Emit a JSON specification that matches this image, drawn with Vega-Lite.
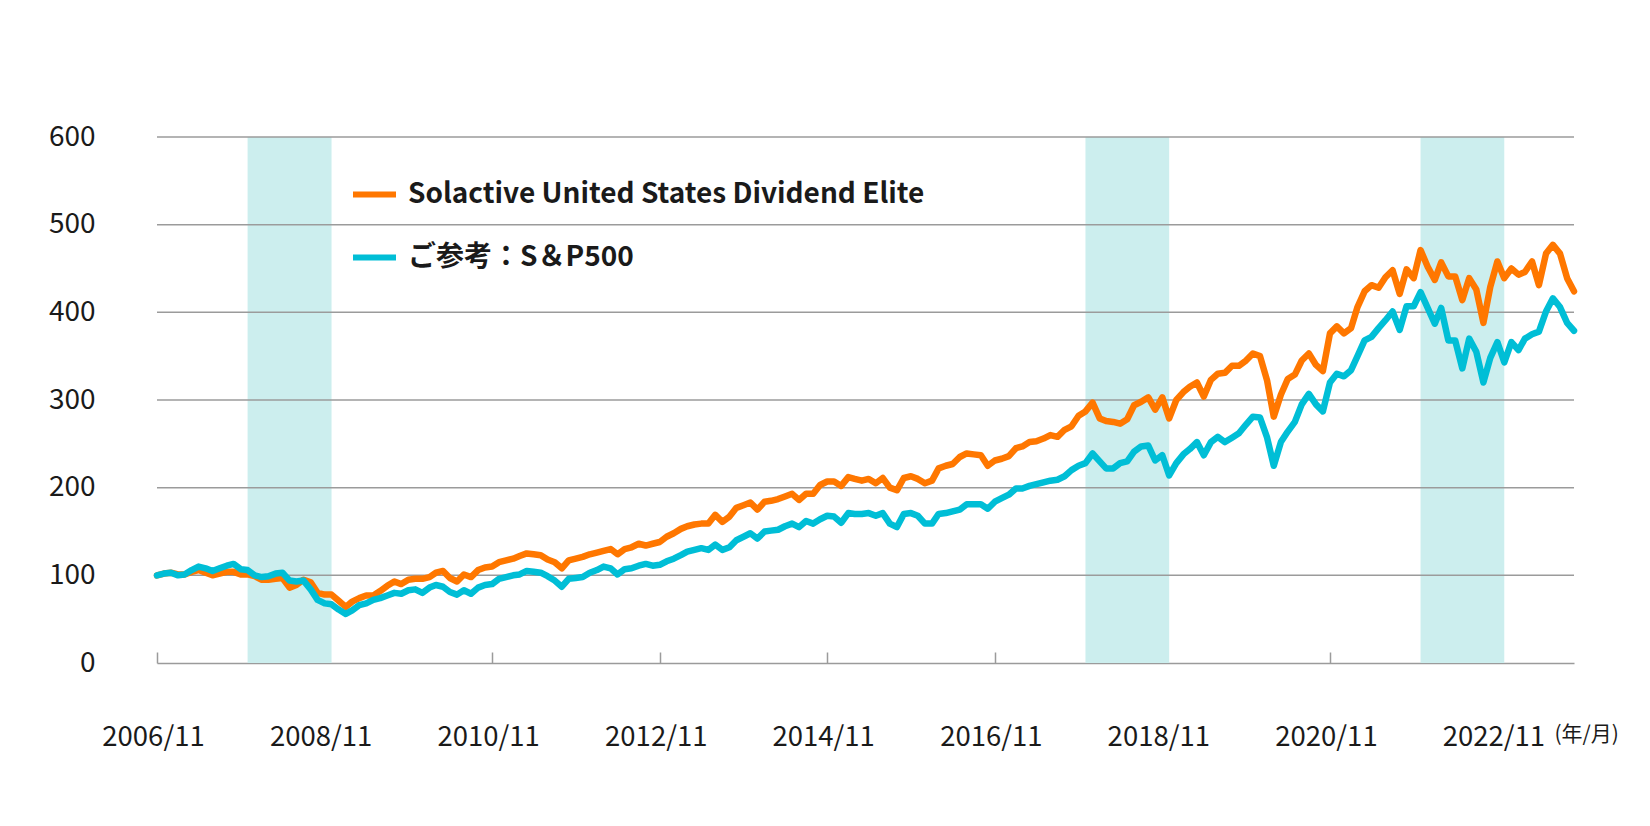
{
  "$schema": "https://vega.github.io/schema/vega-lite/v6.json",
  "width": 1417,
  "height": 526,
  "autosize": {"type": "none"},
  "padding": {"left": 157, "top": 137, "right": 76, "bottom": 163},
  "background": "white",
  "config": {"view": {"stroke": null}, "font": "Noto Sans CJK JP"},
  "layer": [
    {
      "data": {
        "values": [
          {"s": "2007-12", "e": "2008-12"},
          {"s": "2017-12", "e": "2018-12"},
          {"s": "2021-12", "e": "2022-12"}
        ],
        "format": {"parse": {"s": "date:'%Y-%m'", "e": "date:'%Y-%m'"}}
      },
      "mark": {"type": "rect", "color": "#CCEEEE"},
      "encoding": {
        "x": {"field": "s", "type": "temporal", "scale": {"domain": [{"year": 2006, "month": 11, "date": 1}, {"year": 2023, "month": 10, "date": 1}]}},
        "x2": {"field": "e"}
      }
    },
    {
      "data": {"values": [{"g": 100}, {"g": 200}, {"g": 300}, {"g": 400}, {"g": 500}, {"g": 600}]},
      "mark": {"type": "rule", "color": "#9b9b9b", "strokeWidth": 1.5},
      "encoding": {
        "y": {"field": "g", "type": "quantitative", "scale": {"domain": [0, 600]}}
      }
    },
    {
      "data": {
        "values": [
{"d":"2006-11","a":100,"b":100},{"d":"2006-12","a":102,"b":102},{"d":"2007-01","a":103,"b":103},{"d":"2007-02","a":101,"b":100},{"d":"2007-03","a":101,"b":101},{"d":"2007-04","a":104,"b":106},{"d":"2007-05","a":106,"b":110},{"d":"2007-06","a":103,"b":108},{"d":"2007-07","a":100,"b":105},{"d":"2007-08","a":102,"b":108},{"d":"2007-09","a":104,"b":111},{"d":"2007-10","a":104,"b":113},
{"d":"2007-11","a":101,"b":107},{"d":"2007-12","a":101,"b":106},{"d":"2008-01","a":99,"b":100},{"d":"2008-02","a":95,"b":98},{"d":"2008-03","a":95,"b":99},{"d":"2008-04","a":96,"b":102},{"d":"2008-05","a":97,"b":103},{"d":"2008-06","a":86,"b":94},{"d":"2008-07","a":89,"b":93},{"d":"2008-08","a":95,"b":94},{"d":"2008-09","a":92,"b":84},{"d":"2008-10","a":80,"b":72},
{"d":"2008-11","a":78,"b":68},{"d":"2008-12","a":78,"b":67},{"d":"2009-01","a":71,"b":61},{"d":"2009-02","a":64,"b":56},{"d":"2009-03","a":70,"b":60},{"d":"2009-04","a":74,"b":66},{"d":"2009-05","a":77,"b":68},{"d":"2009-06","a":77,"b":72},{"d":"2009-07","a":82,"b":74},{"d":"2009-08","a":88,"b":77},{"d":"2009-09","a":93,"b":80},{"d":"2009-10","a":90,"b":79},
{"d":"2009-11","a":95,"b":83},{"d":"2009-12","a":96,"b":84},{"d":"2010-01","a":96,"b":80},{"d":"2010-02","a":98,"b":86},{"d":"2010-03","a":103,"b":89},{"d":"2010-04","a":105,"b":87},{"d":"2010-05","a":97,"b":81},{"d":"2010-06","a":93,"b":78},{"d":"2010-07","a":101,"b":83},{"d":"2010-08","a":98,"b":79},{"d":"2010-09","a":106,"b":86},{"d":"2010-10","a":109,"b":89},
{"d":"2010-11","a":110,"b":90},{"d":"2010-12","a":115,"b":96},{"d":"2011-01","a":117,"b":98},{"d":"2011-02","a":119,"b":100},{"d":"2011-03","a":122,"b":101},{"d":"2011-04","a":125,"b":105},{"d":"2011-05","a":124,"b":104},{"d":"2011-06","a":123,"b":103},{"d":"2011-07","a":118,"b":99},{"d":"2011-08","a":115,"b":94},{"d":"2011-09","a":108,"b":87},{"d":"2011-10","a":117,"b":96},
{"d":"2011-11","a":119,"b":97},{"d":"2011-12","a":121,"b":98},{"d":"2012-01","a":124,"b":103},{"d":"2012-02","a":126,"b":106},{"d":"2012-03","a":128,"b":110},{"d":"2012-04","a":130,"b":108},{"d":"2012-05","a":124,"b":101},{"d":"2012-06","a":130,"b":107},{"d":"2012-07","a":132,"b":108},{"d":"2012-08","a":136,"b":111},{"d":"2012-09","a":134,"b":113},{"d":"2012-10","a":136,"b":111},
{"d":"2012-11","a":138,"b":112},{"d":"2012-12","a":144,"b":116},{"d":"2013-01","a":148,"b":119},{"d":"2013-02","a":153,"b":123},{"d":"2013-03","a":156,"b":127},{"d":"2013-04","a":158,"b":129},{"d":"2013-05","a":159,"b":131},{"d":"2013-06","a":159,"b":129},{"d":"2013-07","a":169,"b":135},{"d":"2013-08","a":161,"b":129},{"d":"2013-09","a":167,"b":132},{"d":"2013-10","a":177,"b":140},
{"d":"2013-11","a":180,"b":144},{"d":"2013-12","a":183,"b":148},{"d":"2014-01","a":175,"b":142},{"d":"2014-02","a":184,"b":150},{"d":"2014-03","a":185,"b":151},{"d":"2014-04","a":187,"b":152},{"d":"2014-05","a":190,"b":156},{"d":"2014-06","a":193,"b":159},{"d":"2014-07","a":186,"b":155},{"d":"2014-08","a":193,"b":162},{"d":"2014-09","a":193,"b":159},{"d":"2014-10","a":203,"b":164},
{"d":"2014-11","a":207,"b":168},{"d":"2014-12","a":207,"b":167},{"d":"2015-01","a":202,"b":160},{"d":"2015-02","a":212,"b":171},{"d":"2015-03","a":210,"b":170},{"d":"2015-04","a":208,"b":170},{"d":"2015-05","a":210,"b":171},{"d":"2015-06","a":205,"b":168},{"d":"2015-07","a":211,"b":171},{"d":"2015-08","a":200,"b":159},{"d":"2015-09","a":197,"b":155},{"d":"2015-10","a":211,"b":170},
{"d":"2015-11","a":213,"b":171},{"d":"2015-12","a":210,"b":168},{"d":"2016-01","a":205,"b":159},{"d":"2016-02","a":208,"b":159},{"d":"2016-03","a":222,"b":170},{"d":"2016-04","a":225,"b":171},{"d":"2016-05","a":227,"b":173},{"d":"2016-06","a":235,"b":175},{"d":"2016-07","a":239,"b":181},{"d":"2016-08","a":238,"b":181},{"d":"2016-09","a":237,"b":181},{"d":"2016-10","a":225,"b":176},
{"d":"2016-11","a":231,"b":184},{"d":"2016-12","a":233,"b":188},{"d":"2017-01","a":236,"b":192},{"d":"2017-02","a":245,"b":199},{"d":"2017-03","a":247,"b":199},{"d":"2017-04","a":252,"b":202},{"d":"2017-05","a":253,"b":204},{"d":"2017-06","a":256,"b":206},{"d":"2017-07","a":260,"b":208},{"d":"2017-08","a":258,"b":209},{"d":"2017-09","a":266,"b":213},{"d":"2017-10","a":270,"b":220},
{"d":"2017-11","a":282,"b":225},{"d":"2017-12","a":287,"b":228},{"d":"2018-01","a":297,"b":239},{"d":"2018-02","a":279,"b":230},{"d":"2018-03","a":276,"b":222},{"d":"2018-04","a":275,"b":222},{"d":"2018-05","a":273,"b":228},{"d":"2018-06","a":278,"b":230},{"d":"2018-07","a":294,"b":241},{"d":"2018-08","a":298,"b":247},{"d":"2018-09","a":303,"b":248},{"d":"2018-10","a":289,"b":231},
{"d":"2018-11","a":303,"b":237},{"d":"2018-12","a":279,"b":214},{"d":"2019-01","a":300,"b":228},{"d":"2019-02","a":309,"b":238},{"d":"2019-03","a":315,"b":244},{"d":"2019-04","a":320,"b":252},{"d":"2019-05","a":304,"b":237},{"d":"2019-06","a":323,"b":252},{"d":"2019-07","a":330,"b":258},{"d":"2019-08","a":331,"b":252},{"d":"2019-09","a":339,"b":257},{"d":"2019-10","a":339,"b":262},
{"d":"2019-11","a":345,"b":272},{"d":"2019-12","a":353,"b":281},{"d":"2020-01","a":350,"b":280},{"d":"2020-02","a":322,"b":257},{"d":"2020-03","a":281,"b":225},{"d":"2020-04","a":306,"b":252},{"d":"2020-05","a":324,"b":264},{"d":"2020-06","a":329,"b":275},{"d":"2020-07","a":345,"b":295},{"d":"2020-08","a":353,"b":307},{"d":"2020-09","a":340,"b":295},{"d":"2020-10","a":333,"b":287},
{"d":"2020-11","a":376,"b":320},{"d":"2020-12","a":384,"b":330},{"d":"2021-01","a":376,"b":327},{"d":"2021-02","a":382,"b":334},{"d":"2021-03","a":406,"b":350},{"d":"2021-04","a":424,"b":368},{"d":"2021-05","a":431,"b":372},{"d":"2021-06","a":428,"b":382},{"d":"2021-07","a":440,"b":391},{"d":"2021-08","a":448,"b":401},{"d":"2021-09","a":421,"b":380},{"d":"2021-10","a":449,"b":407},
{"d":"2021-11","a":439,"b":407},{"d":"2021-12","a":471,"b":423},{"d":"2022-01","a":452,"b":405},{"d":"2022-02","a":437,"b":387},{"d":"2022-03","a":457,"b":405},{"d":"2022-04","a":441,"b":368},{"d":"2022-05","a":441,"b":368},{"d":"2022-06","a":414,"b":336},{"d":"2022-07","a":439,"b":370},{"d":"2022-08","a":426,"b":355},{"d":"2022-09","a":388,"b":320},{"d":"2022-10","a":429,"b":348},
{"d":"2022-11","a":458,"b":366},{"d":"2022-12","a":439,"b":343},{"d":"2023-01","a":450,"b":366},{"d":"2023-02","a":443,"b":357},{"d":"2023-03","a":446,"b":370},{"d":"2023-04","a":458,"b":375},{"d":"2023-05","a":431,"b":378},{"d":"2023-06","a":467,"b":401},{"d":"2023-07","a":477,"b":416},{"d":"2023-08","a":467,"b":406},{"d":"2023-09","a":439,"b":388},{"d":"2023-10","a":424,"b":379}
        ],
        "format": {"parse": {"d": "date:'%Y-%m'"}}
      },
      "transform": [{"fold": ["a", "b"], "as": ["k", "v"]}],
      "mark": {"type": "line", "strokeWidth": 6.5, "strokeJoin": "round", "strokeCap": "round"},
      "encoding": {
        "x": {
          "field": "d",
          "type": "temporal",
          "scale": {"domain": [{"year": 2006, "month": 11, "date": 1}, {"year": 2023, "month": 10, "date": 1}]},
          "axis": {
            "values": [
              {"year": 2006, "month": 11, "date": 1},
              {"year": 2008, "month": 11, "date": 1},
              {"year": 2010, "month": 11, "date": 1},
              {"year": 2012, "month": 11, "date": 1},
              {"year": 2014, "month": 11, "date": 1},
              {"year": 2016, "month": 11, "date": 1},
              {"year": 2018, "month": 11, "date": 1},
              {"year": 2020, "month": 11, "date": 1},
              {"year": 2022, "month": 11, "date": 1}
            ],
            "format": "%Y/%m",
            "grid": false,
            "domain": true,
            "domainColor": "#9b9b9b",
            "domainWidth": 1.5,
            "ticks": true,
            "tickSize": -11,
            "tickColor": "#9b9b9b",
            "tickWidth": 1.5,
            "labelPadding": 85,
            "labelBaseline": "middle",
            "labelFlush": false,
            "labelOverlap": false,
            "labelFontSize": 27.5,
            "labelOffset": -4,
            "labelColor": "#1a1a1a",
            "title": "(年/月)",
            "titleFontSize": 21,
            "titleFontWeight": "normal",
            "titleColor": "#1a1a1a",
            "titleX": 1397,
            "titleY": 71,
            "titleAlign": "left",
            "titleBaseline": "middle"
          }
        },
        "y": {
          "field": "v",
          "type": "quantitative",
          "scale": {"domain": [0, 600]},
          "axis": {
            "values": [0, 100, 200, 300, 400, 500, 600],
            "grid": false,
            "ticks": false,
            "domain": false,
            "labelPadding": 62,
            "labelFontSize": 28,
            "labelColor": "#1a1a1a",
            "title": null
          }
        },
        "color": {
          "field": "k",
          "type": "nominal",
          "scale": {"domain": ["a", "b"], "range": ["#FF7700", "#00BED6"]},
          "legend": {
            "orient": "none",
            "legendX": 193,
            "legendY": 33,
            "title": null,
            "direction": "vertical",
            "symbolType": "stroke",
            "symbolSize": 1849,
            "symbolStrokeWidth": 6,
            "labelFontSize": 28,
            "labelFontWeight": "bold",
            "labelColor": "#1a1a1a",
            "labelOffset": 9,
            "labelLimit": 1000,
            "rowPadding": 24,
            "labelExpr": "datum.value == 'a' ? 'Solactive United States Dividend Elite' : 'ご参考：S＆P500'"
          }
        }
      }
    }
  ]
}
